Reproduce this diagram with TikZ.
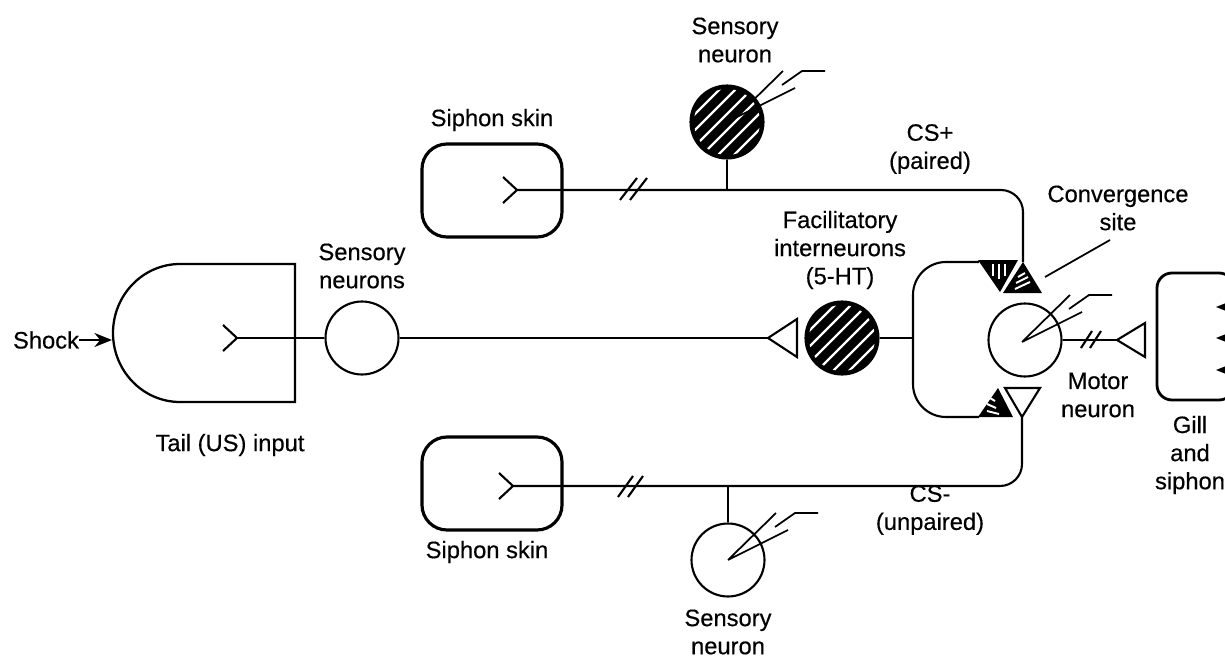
\documentclass[tikz,border=0pt]{standalone}
\usepackage{fontspec}
\setmainfont{Liberation Sans}
\usetikzlibrary{calc,arrows.meta}
\newcommand\lblfont{\fontsize{13.5}{16}\selectfont\addfontfeature{FakeBold=0.4}}
\tikzset{
  axon/.style={line width=1.2pt},
  soma/.style={circle,draw,line width=1.2pt,minimum size=1.46cm,inner sep=0pt},
  hatched/.style={soma,fill=black},
  stripe/.style={white,line width=1.3pt},
  skin/.style={draw,line width=1.8pt,rounded corners=0.5cm},
  lbl/.style={font=\lblfont,align=center,inner sep=0pt},
  fork/.pic={\draw[axon] (-14,-13) -- (0,0) -- (-14,13);},
  electrode/.pic={\draw[line width=1pt] (0,0) -- (48,-47) (0,0) -- (60,-30) (47,-33) -- (67,-47) -- (90,-47);},
}

\begin{document}
\begin{tikzpicture}[x=0.02cm,y=-0.02cm]
  \useasboundingbox (0,0) rectangle (1225,659);

  % tail input
  \draw[line width=1.3pt] (295,264) -- (180,264) .. controls (143,264) and (113,295) .. (113,333)
    .. controls (113,371) and (143,402) .. (180,402) -- (295,402) -- cycle;
  \node[lbl] (shock) at (46,340) {Shock};
  \coordinate (tailw) at (112,340);
  \draw[axon,-{Stealth[length=10pt,width=8pt]}] (shock) -- (tailw);
  \node[lbl] at (230,445) {Tail (US) input};
  \pic at (237,338) {fork};
  \coordinate (tailf) at (237,338);
  \node[soma] (sn) at (362,338) {};
  \node[lbl] at (362,266) {Sensory\\neurons};
  \coordinate (t1) at (768,338);
  \draw[axon] (tailf) -- (sn);
  \draw[axon] (sn) -- (t1);
  \draw[axon] (t1) -- ++(29,-19) -- ++(0,38) -- cycle;

  % facilitatory interneurons
  \node[hatched] (fi) at (842,338) {};
  \node[lbl] at (840,250) {Facilitatory\\interneurons\\(5-HT)};
  \coordinate (loopw) at (913,338);
  \draw[axon] (fi) -- (loopw);
  \draw[axon,rounded corners=0.66cm] (979,262) -- (913,262) -- (913,417) -- (979,417);

  % CS+ pathway
  \draw[skin] (422,144) rectangle (562,237);
  \node[lbl] at (492,120) {Siphon skin};
  \pic at (517,190) {fork};
  \coordinate (topf) at (517,190);
  \node[hatched] (snp) at (727,122) {};
  \node[lbl] at (735,40) {Sensory\\neuron};
  \coordinate (jp) at (727,190);
  \coordinate (cspt) at (1023,262);
  \draw[axon] (snp) -- (jp);
  \draw[axon,rounded corners=0.44cm] (topf) -- (1023,190) -- (cspt);
  \draw[axon] (620,200) -- (637,178) (630,200) -- (647,178);
  \node[lbl] at (930,149) {CS+\\(paired)};

  % CS- pathway
  \draw[skin] (422,437) rectangle (562,530);
  \node[lbl] at (487,552) {Siphon skin};
  \pic at (513,486) {fork};
  \coordinate (botf) at (513,486);
  \node[soma] (snu) at (728,560) {};
  \node[lbl] at (728,632) {Sensory\\neuron};
  \coordinate (jm) at (728,486);
  \coordinate (csmt) at (1022,417);
  \draw[axon] (snu) -- (jm);
  \draw[axon,rounded corners=0.44cm] (botf) -- (1022,486) -- (csmt);
  \draw[axon] (618,497) -- (633,476) (628,497) -- (643,476);
  \node[lbl] at (930,510) {CS-\\(unpaired)};

  % hatching
  \foreach \c in {fi,snp}{
    \begin{scope}
      \clip (\c) circle (33);
      \foreach \k in {-3,...,2}
        \draw[stripe] ($(\c)+(\k*16+8-40,40)$) -- ++(80,-80);
    \end{scope}
  }
  \pic at (735,118) {electrode};
  \pic at (728,560) {electrode};

  % terminals at the convergence site
  \fill (978,260) -- (1018,260) -- (1000,292) -- cycle;
  \draw[stripe,line width=1.1pt] (993,264) -- (993,276) (999,264) -- (999,279) (1005,264) -- (1005,276);
  \fill (1023,262) -- (1042,293) -- (1003,293) -- cycle;
  \draw[stripe,line width=1.1pt] (1015,289) -- (1030,282) (1016,283) -- (1028,277) (1018,277) -- (1025,273);
  \fill (998,388) -- (1013,417) -- (978,417) -- cycle;
  \draw[stripe,line width=1.1pt] (990,398) -- (995,401) (987,404) -- (996,408) (987,411) -- (999,414);
  \draw[axon] (1005,388) -- (1040,388) -- (1022,417) -- cycle;
  \node[lbl] (conv) at (1118,208) {Convergence\\site};
  \draw[line width=1pt] (1045,277) -- (1110,240);

  % motor neuron
  \node[soma] (mn) at (1025,340) {};
  \pic at (1022,342) {electrode};
  \coordinate (t2) at (1117,340);
  \draw[axon] (mn) -- (t2);
  \draw[axon] (t2) -- ++(28,-17) -- ++(0,34) -- cycle;
  \draw[axon] (1081,348) -- (1092,331) (1090,348) -- (1101,331);
  \node[lbl] at (1098,395) {Motor\\neuron};

  % gill and siphon
  \draw[line width=1.6pt,rounded corners=0.3cm] (1157,273) rectangle (1234,400);
  \foreach \y in {307,338,370}
    \fill (1216,\y) -- ++(10,-4) -- ++(0,8) -- cycle;
  \node[lbl] at (1190,455) {Gill\\and\\siphon};
\end{tikzpicture}
\end{document}
